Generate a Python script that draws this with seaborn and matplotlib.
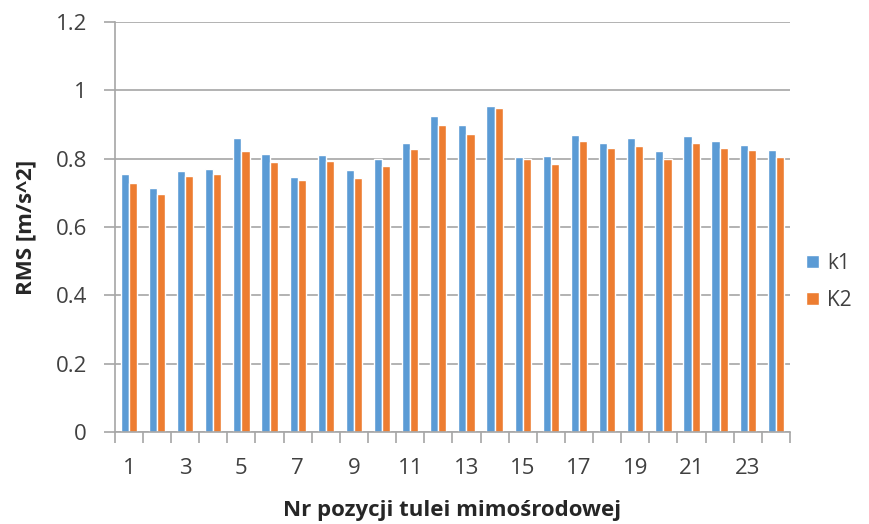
import matplotlib
matplotlib.use("Agg")
import matplotlib.pyplot as plt
import seaborn as sns
import pandas as pd
from matplotlib.ticker import FuncFormatter, FixedLocator

# Position numbers of the eccentric sleeve
positions = list(range(1, 25))

# RMS acceleration [m/s^2] for the two series
k1 = [0.755, 0.713, 0.763, 0.770, 0.860, 0.815, 0.747, 0.812, 0.766, 0.798,
      0.846, 0.924, 0.898, 0.955, 0.804, 0.808, 0.868, 0.845, 0.860, 0.822,
      0.867, 0.853, 0.841, 0.826]
k2 = [0.728, 0.696, 0.748, 0.755, 0.822, 0.789, 0.737, 0.792, 0.743, 0.780,
      0.827, 0.898, 0.872, 0.947, 0.798, 0.785, 0.853, 0.830, 0.838, 0.799,
      0.845, 0.830, 0.826, 0.804]

series_names = ["k1", "K2"]
colors = ["#5B9BD5", "#ED7D31"]
yticks = [0, 0.2, 0.4, 0.6, 0.8, 1.0, 1.2]

df = pd.DataFrame({
    "pos": [str(p) for p in positions] * 2,
    "rms": k1 + k2,
    "series": [series_names[0]] * len(k1) + [series_names[1]] * len(k2),
})

sns.set_theme(style="white")
plt.rcParams["font.family"] = ["Open Sans", "DejaVu Sans"]

fig = plt.figure(figsize=(8.7, 5.24), dpi=100)
ax = fig.add_axes([0.132, 0.1756, 0.776, 0.7824])

sns.barplot(data=df, x="pos", y="rms", hue="series",
            order=[str(p) for p in positions], hue_order=series_names,
            palette=colors, width=0.58, saturation=1, ax=ax, legend=True)

ax.set_ylim(0, 1.2)
ax.set_xlim(-0.5, len(positions) - 0.5)
ax.yaxis.set_major_locator(FixedLocator(yticks))
ax.yaxis.set_major_formatter(FuncFormatter(lambda v, _: f"{v:g}"))
ax.grid(axis="y", color="#A6A6A6", linewidth=1.2)
ax.set_axisbelow(True)

# Category labels on every other position, tick marks between categories
major = [i for i, p in enumerate(positions) if p % 2 == 1]
ax.set_xticks(major)
ax.set_xticklabels([str(positions[i]) for i in major])
ax.set_xticks([i - 0.5 for i in range(len(positions) + 1)], minor=True)
ax.tick_params(axis="x", which="major", length=0, pad=19, labelsize=16,
               colors="#404040")
ax.tick_params(axis="x", which="minor", length=8, width=1.2, color="#A6A6A6",
               direction="out", bottom=True)
ax.tick_params(axis="y", length=8, width=1.2, color="#A6A6A6", pad=12,
               labelsize=16, labelcolor="#404040", left=True)

for side in ["top", "right"]:
    ax.spines[side].set_visible(False)
for side in ["left", "bottom"]:
    ax.spines[side].set_color("#A6A6A6")
    ax.spines[side].set_linewidth(1.2)

ax.set_xlabel("Nr pozycji tulei mimośrodowej", fontsize=16, fontweight="bold",
              color="#262626", labelpad=15)
ax.set_ylabel("RMS [m/s^2]", fontsize=16, fontweight="bold", color="#262626",
              labelpad=14)

ax.legend(loc="center left", bbox_to_anchor=(0.922, 0.462),
          bbox_transform=fig.transFigure, frameon=False, fontsize=15,
          handlelength=0.6, handleheight=0.6, handletextpad=0.4,
          labelspacing=0.75, labelcolor="#404040",
          borderaxespad=0, borderpad=0.2)

fig.savefig("out.png", dpi=100)
